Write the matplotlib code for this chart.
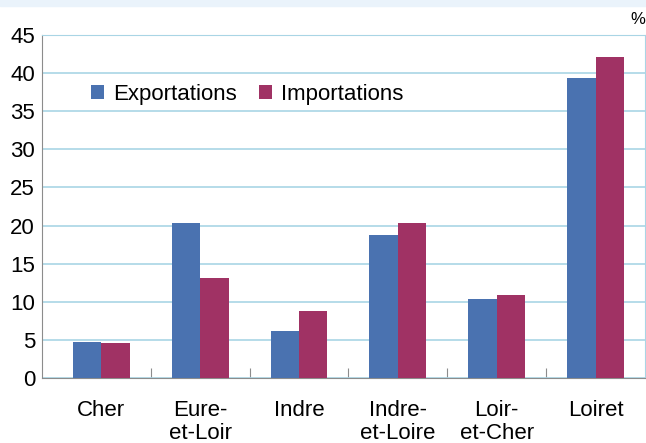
import numpy as np
import matplotlib
matplotlib.use('Agg')
import matplotlib.pyplot as plt
from matplotlib.patches import Rectangle

departements = ['Cher', 'Eure-\net-Loir', 'Indre', 'Indre-\net-Loire', 'Loir-\net-Cher', 'Loiret']
exportations = [4.7, 20.3, 6.2, 18.8, 10.4, 39.4]
importations = [4.6, 13.1, 8.8, 20.3, 10.9, 42.1]

blue = '#4a72b0'
purple = '#a03264'
grid_col = '#a9d5e5'
axis_col = '#8c8c8c'

plt.rcParams['font.family'] = ['Liberation Sans', 'DejaVu Sans']

fig = plt.figure(figsize=(6.46, 4.43), dpi=100)
fig.patches.append(Rectangle((0, 1 - 6 / 443), 1, 6 / 443, transform=fig.transFigure,
                             color='#eaf3fb', zorder=0))
ax = fig.add_axes([42 / 646, 1 - 378 / 443, 603 / 646, 343 / 443])

x = np.arange(len(departements))
w = 0.288
ax.bar(x - w / 2, exportations, w, color=blue, label='Exportations', zorder=3)
ax.bar(x + w / 2, importations, w, color=purple, label='Importations', zorder=3)

ax.set_xlim(-0.6, 5.5)
ax.set_ylim(0, 45)
ax.set_yticks(range(0, 50, 5))
ax.yaxis.grid(True, color=grid_col, linewidth=1.2, zorder=0)
ax.tick_params(axis='y', length=0, labelsize=16, pad=5)

ax.set_xticks(x)
ax.set_xticklabels(departements, fontsize=16, linespacing=1.08)
ax.tick_params(axis='x', length=0, pad=16)
ax.set_xticks(x[:-1] + 0.5, minor=True)
ax.tick_params(axis='x', which='minor', direction='in', length=7, color=axis_col, width=0.8)

for s in ['left', 'bottom']:
    ax.spines[s].set_color(axis_col)
for s in ['top', 'right']:
    ax.spines[s].set_color(grid_col)

ax.legend(loc='upper left', bbox_to_anchor=(0.048, 0.915), ncol=2, frameon=False,
          fontsize=16, handlelength=0.6, handleheight=0.6, handletextpad=0.4,
          columnspacing=1.0)

fig.text(645 / 646, 1 - 20 / 443, '%', fontsize=12, ha='right', va='center')

fig.savefig('out.png', dpi=100)
